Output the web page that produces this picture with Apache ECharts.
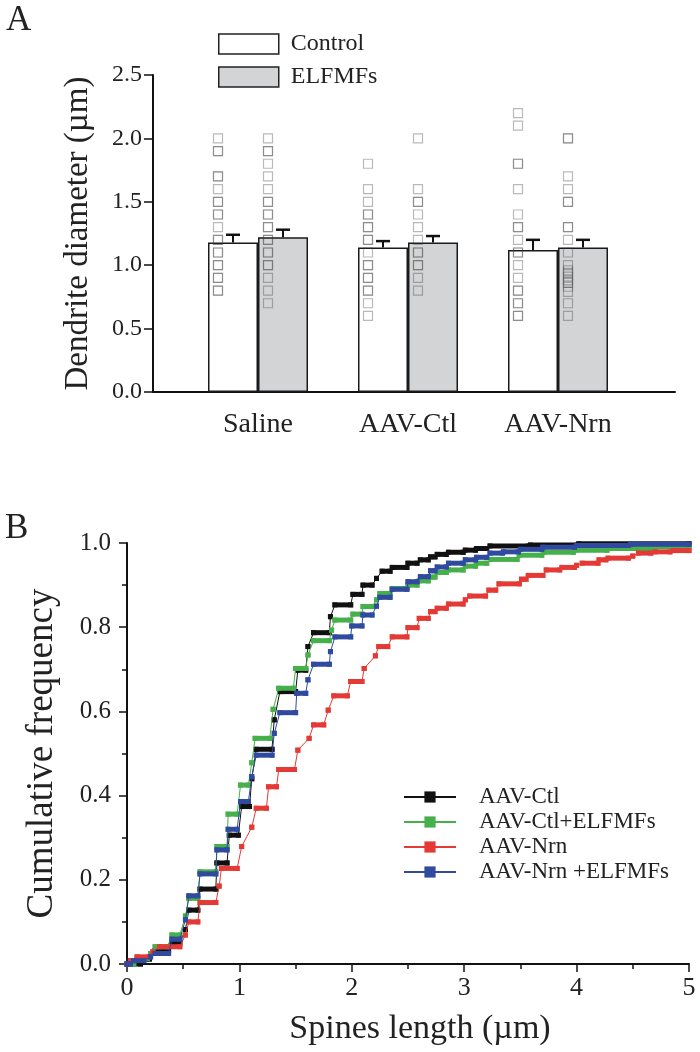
<!DOCTYPE html>
<html><head><meta charset="utf-8">
<script src="https://cdn.jsdelivr.net/npm/echarts@6/dist/echarts.min.js"></script>
<style>html,body{margin:0;padding:0;background:#fff;}#c{width:700px;height:1052px;}</style>
</head><body><div id="c"></div>
<script>
// ---------- Panel A data ----------
const groups = ['Saline', 'AAV-Ctl', 'AAV-Nrn'];
const groupX = [1, 2, 3];
const controlMean = [1.18, 1.14, 1.12];
const controlTop = [1.24, 1.19, 1.20];
const elfMean = [1.22, 1.18, 1.14];
const elfTop = [1.28, 1.23, 1.20];
// individual dendrites (repeated values overlap and look darker)
const salineControlPts = [2.0, 1.9, 1.9, 1.7, 1.7, 1.6, 1.5, 1.5, 1.4, 1.4, 1.3, 1.2, 1.2, 1.1, 1.1, 1.0, 1.0, 0.9, 0.9, 0.8, 0.8];
const salineElfPts = [2.0, 1.9, 1.9, 1.8, 1.7, 1.6, 1.5, 1.5, 1.4, 1.4, 1.3, 1.3, 1.2, 1.2, 1.1, 1.1, 1.0, 1.0, 0.9, 0.8, 0.7];
const ctlControlPts = [1.8, 1.6, 1.5, 1.4, 1.4, 1.3, 1.3, 1.2, 1.2, 1.1, 1.0, 1.0, 0.9, 0.9, 0.8, 0.8, 0.7, 0.6];
const ctlElfPts = [2.0, 1.6, 1.5, 1.5, 1.4, 1.3, 1.2, 1.1, 1.1, 1.0, 1.0, 0.9, 0.8];
const nrnControlPts = [2.2, 2.1, 1.8, 1.8, 1.6, 1.4, 1.3, 1.3, 1.2, 1.1, 1.1, 1.0, 0.9, 0.8, 0.8, 0.7, 0.7, 0.6, 0.6];
const nrnElfPts = [2.0, 2.0, 1.7, 1.6, 1.5, 1.5, 1.3, 1.3, 1.2, 1.1, 1.0, 0.96, 0.94, 0.91, 0.88, 0.86, 0.83, 0.79, 0.7, 0.6];

// ---------- Panel B data: plateaus [xStart, xEnd, cumulative frequency] ----------
const curveNames = ['AAV-Ctl', 'AAV-Ctl+ELFMFs', 'AAV-Nrn', 'AAV-Nrn +ELFMFs'];
const curveColors = ['#111111', '#46b04a', '#e43a36', '#2f4a9e'];
const ctlSteps = [
  [0.00, 0.12, 0.000], [0.18, 0.20, 0.012], [0.25, 0.37, 0.032], [0.40, 0.47, 0.050],
  [0.52, 0.52, 0.082], [0.55, 0.63, 0.128], [0.65, 0.79, 0.178], [0.80, 0.89, 0.240],
  [0.91, 0.99, 0.306], [1.02, 1.09, 0.374], [1.11, 1.11, 0.440], [1.15, 1.29, 0.510],
  [1.31, 1.31, 0.580], [1.36, 1.50, 0.647], [1.52, 1.59, 0.698], [1.61, 1.61, 0.754],
  [1.66, 1.80, 0.787], [1.81, 1.81, 0.825], [1.85, 1.99, 0.853], [2.01, 2.09, 0.878],
  [2.10, 2.18, 0.900], [2.22, 2.22, 0.916], [2.27, 2.34, 0.933], [2.36, 2.49, 0.942],
  [2.50, 2.58, 0.952], [2.61, 2.68, 0.960], [2.70, 2.74, 0.967], [2.76, 2.84, 0.973],
  [2.86, 2.99, 0.978], [3.01, 3.10, 0.983], [3.11, 3.20, 0.987], [3.23, 3.57, 0.993],
  [3.59, 4.00, 0.995], [4.02, 5.00, 0.998]
];
const ctlElfSteps = [
  [0.00, 0.06, 0.000], [0.09, 0.18, 0.013], [0.21, 0.21, 0.025], [0.25, 0.36, 0.041],
  [0.40, 0.47, 0.069], [0.52, 0.52, 0.114], [0.55, 0.63, 0.156], [0.65, 0.79, 0.219],
  [0.80, 0.89, 0.279], [0.90, 0.98, 0.356], [1.01, 1.08, 0.425], [1.11, 1.11, 0.478],
  [1.14, 1.27, 0.536], [1.30, 1.30, 0.605], [1.35, 1.48, 0.655], [1.50, 1.59, 0.702],
  [1.61, 1.61, 0.734], [1.66, 1.80, 0.768], [1.82, 1.82, 0.793], [1.85, 1.99, 0.817],
  [2.01, 2.09, 0.831], [2.10, 2.18, 0.849], [2.22, 2.22, 0.865], [2.25, 2.34, 0.880],
  [2.36, 2.49, 0.892], [2.50, 2.58, 0.900], [2.60, 2.68, 0.910], [2.70, 2.74, 0.919],
  [2.76, 2.84, 0.930], [2.86, 2.99, 0.936], [3.01, 3.10, 0.945], [3.11, 3.20, 0.952],
  [3.24, 3.47, 0.961], [3.49, 3.69, 0.971], [3.71, 3.97, 0.978], [3.99, 4.27, 0.983],
  [4.29, 4.69, 0.987], [4.71, 5.00, 0.991]
];
const nrnSteps = [
  [0.00, 0.00, 0.000], [0.03, 0.06, 0.008], [0.09, 0.19, 0.017], [0.23, 0.23, 0.029],
  [0.29, 0.47, 0.041], [0.52, 0.52, 0.069], [0.55, 0.63, 0.100], [0.65, 0.79, 0.146],
  [0.82, 0.82, 0.185], [0.84, 0.98, 0.227], [1.02, 1.02, 0.279], [1.11, 1.11, 0.325],
  [1.15, 1.24, 0.370], [1.26, 1.33, 0.421], [1.35, 1.49, 0.462], [1.52, 1.52, 0.508],
  [1.62, 1.62, 0.536], [1.66, 1.75, 0.568], [1.79, 1.79, 0.603], [1.84, 1.96, 0.637],
  [1.99, 2.09, 0.671], [2.11, 2.11, 0.702], [2.21, 2.21, 0.732], [2.24, 2.32, 0.754],
  [2.36, 2.49, 0.777], [2.50, 2.58, 0.799], [2.60, 2.68, 0.821], [2.70, 2.74, 0.837],
  [2.76, 2.84, 0.845], [2.86, 2.99, 0.855], [3.01, 3.01, 0.865], [3.05, 3.19, 0.874],
  [3.22, 3.28, 0.888], [3.31, 3.49, 0.903], [3.51, 3.55, 0.914], [3.57, 3.70, 0.923],
  [3.73, 3.85, 0.936], [3.87, 3.98, 0.942], [4.00, 4.00, 0.947], [4.05, 4.19, 0.952],
  [4.20, 4.26, 0.960], [4.28, 4.46, 0.964], [4.50, 4.50, 0.969], [4.55, 4.66, 0.976],
  [4.70, 4.83, 0.979], [4.86, 5.00, 0.982]
];
const nrnElfSteps = [
  [0.00, 0.03, 0.000], [0.06, 0.15, 0.008], [0.21, 0.21, 0.017], [0.25, 0.37, 0.025],
  [0.40, 0.47, 0.059], [0.52, 0.52, 0.105], [0.55, 0.63, 0.162], [0.65, 0.79, 0.214],
  [0.80, 0.89, 0.271], [0.90, 0.98, 0.320], [1.01, 1.08, 0.386], [1.11, 1.11, 0.445],
  [1.15, 1.29, 0.496], [1.31, 1.31, 0.548], [1.36, 1.50, 0.597], [1.51, 1.59, 0.643],
  [1.61, 1.61, 0.675], [1.66, 1.80, 0.712], [1.81, 1.81, 0.742], [1.85, 1.99, 0.777],
  [2.00, 2.09, 0.803], [2.10, 2.18, 0.829], [2.22, 2.22, 0.850], [2.25, 2.34, 0.871],
  [2.36, 2.49, 0.890], [2.50, 2.58, 0.908], [2.61, 2.68, 0.920], [2.70, 2.74, 0.934],
  [2.76, 2.84, 0.943], [2.86, 2.99, 0.952], [3.01, 3.10, 0.960], [3.11, 3.20, 0.966],
  [3.23, 3.34, 0.976], [3.35, 3.48, 0.979], [3.50, 3.69, 0.985], [3.70, 3.98, 0.990],
  [4.00, 4.46, 0.994], [4.48, 5.00, 0.997]
];
const allSteps = [ctlSteps, ctlElfSteps, nrnSteps, nrnElfSteps];

// ---------- build ----------
const FONT = '"Liberation Serif", "DejaVu Serif", serif';
const TXT = '#222';
const chart = echarts.init(document.getElementById('c'), null, {renderer: 'canvas'});

function pairs(xs, ys) { return xs.map((x, i) => [x, ys[i]]); }
function pts(x, vals) { return vals.map(v => [x, v]); }

const squareStyle = {color: 'rgba(0,0,0,0)', borderColor: 'rgba(60,60,60,0.45)', borderWidth: 1.2};
const scatterSeries = [
  [salineControlPts, 1, -40], [salineElfPts, 1, 10],
  [ctlControlPts, 2, -40], [ctlElfPts, 2, 10],
  [nrnControlPts, 3, -40], [nrnElfPts, 3, 10]
].map(([vals, gx, off]) => ({
  type: 'scatter', xAxisIndex: 0, yAxisIndex: 0, data: pts(gx, vals),
  symbol: 'rect', symbolSize: 9, symbolOffset: [off, 0], itemStyle: squareStyle,
  z: 5, silent: true
}));

const errData = [];
groupX.forEach((x, i) => {
  errData.push([x, controlMean[i], controlTop[i], -1]);
  errData.push([x, elfMean[i], elfTop[i], 1]);
});

const curveSeries = [];
allSteps.forEach((steps, k) => {
  const line = [];
  steps.forEach(s => {
    line.push([s[0], s[2]]);
    if (s[1] !== s[0]) line.push([s[1], s[2]]);
  });
  curveSeries.push({
    type: 'line', name: curveNames[k], xAxisIndex: 1, yAxisIndex: 1, data: line,
    symbol: 'rect', symbolSize: 5, showSymbol: true, color: curveColors[k],
    lineStyle: {width: 1, color: curveColors[k]}, itemStyle: {color: curveColors[k]},
    z: 3 + k
  });
  curveSeries.push({
    type: 'custom', xAxisIndex: 1, yAxisIndex: 1, data: steps,
    encode: {x: [0, 1], y: 2}, z: 3 + k,
    renderItem: function (params, api) {
      const a = api.coord([api.value(0), api.value(2)]);
      const b = api.coord([api.value(1), api.value(2)]);
      return {type: 'rect', shape: {x: a[0] - 2.5, y: a[1] - 2.5, width: b[0] - a[0] + 5, height: 5},
              style: {fill: curveColors[k]}};
    }
  });
});

const option = {
  animation: false,
  textStyle: {fontFamily: FONT},
  graphic: [
    {type: 'text', left: 6, top: 3, style: {text: 'A', font: '35px ' + FONT, fill: TXT}},
    {type: 'text', left: 5, top: 511, style: {text: 'B', font: '35px ' + FONT, fill: TXT}}
  ],
  grid: [
    {left: 153, top: 75, width: 522, height: 317},
    {left: 127, top: 543, width: 562, height: 421}
  ],
  legend: [
    {data: ['Control', 'ELFMFs'], orient: 'vertical', left: 218, top: 32, padding: 0,
     itemWidth: 60, itemHeight: 20, itemGap: 9, icon: 'rect', selectedMode: false,
     itemStyle: {borderColor: '#222', borderWidth: 1.5},
     textStyle: {fontFamily: FONT, fontSize: 24, lineHeight: 20, color: TXT, padding: [0, 0, 0, 7]}},
    {data: curveNames, orient: 'vertical', left: 403, top: 785, padding: 0,
     itemWidth: 52, itemHeight: 14, itemGap: 1, selectedMode: false,
     itemStyle: {borderWidth: 0}, lineStyle: {width: 2},
     textStyle: {fontFamily: FONT, fontSize: 23, lineHeight: 24, color: TXT, padding: [0, 0, 0, 18]}}
  ],
  xAxis: [
    {gridIndex: 0, type: 'value', min: 0.3, max: 3.78,
     axisLine: {lineStyle: {color: '#111', width: 2}}, axisTick: {show: false}, splitLine: {show: false},
     axisLabel: {customValues: groupX, formatter: v => groups[Math.round(v) - 1],
                 fontFamily: FONT, fontSize: 28, color: TXT, margin: 19}},
    {gridIndex: 1, type: 'value', min: 0, max: 5, interval: 1,
     axisLine: {lineStyle: {color: '#111', width: 2}},
     axisTick: {length: 8, lineStyle: {color: '#111', width: 1.5}},
     minorTick: {show: true, splitNumber: 2, length: 5, lineStyle: {color: '#111', width: 1.5}},
     splitLine: {show: false}, minorSplitLine: {show: false},
     axisLabel: {fontFamily: FONT, fontSize: 26, color: TXT, margin: 11},
     name: 'Spines length (µm)', nameLocation: 'middle', nameGap: 48,
     nameTextStyle: {fontFamily: FONT, fontSize: 34, color: TXT, padding: [0, 0, 0, 24]}}
  ],
  yAxis: [
    {gridIndex: 0, type: 'value', min: 0, max: 2.5, interval: 0.5,
     axisLine: {show: true, lineStyle: {color: '#111', width: 2}},
     axisTick: {show: true, length: 9, lineStyle: {color: '#111', width: 1.5}},
     splitLine: {show: false},
     axisLabel: {formatter: v => v.toFixed(1), fontFamily: FONT, fontSize: 24, color: TXT, margin: 11},
     name: 'Dendrite diameter (µm)', nameLocation: 'middle', nameGap: 58,
     nameTextStyle: {fontFamily: FONT, fontSize: 33, color: TXT}},
    {gridIndex: 1, type: 'value', min: 0, max: 1, interval: 0.2,
     axisLine: {show: true, lineStyle: {color: '#111', width: 2}},
     axisTick: {show: true, length: 8, lineStyle: {color: '#111', width: 1.5}},
     minorTick: {show: true, splitNumber: 2, length: 5, lineStyle: {color: '#111', width: 1.5}},
     splitLine: {show: false}, minorSplitLine: {show: false},
     axisLabel: {formatter: v => v.toFixed(1), fontFamily: FONT, fontSize: 25, color: TXT, margin: 16},
     name: 'Cumulative frequency', nameLocation: 'middle', nameGap: 66,
     nameTextStyle: {fontFamily: FONT, fontSize: 37, color: TXT}}
  ],
  series: [
    {type: 'bar', name: 'Control', xAxisIndex: 0, yAxisIndex: 0, data: pairs(groupX, controlMean),
     barWidth: 50, barGap: '0%', itemStyle: {color: '#ffffff', borderColor: '#1a1a1a', borderWidth: 1.5}, z: 2},
    {type: 'bar', name: 'ELFMFs', xAxisIndex: 0, yAxisIndex: 0, data: pairs(groupX, elfMean),
     barWidth: 50, barGap: '0%', itemStyle: {color: '#d3d4d6', borderColor: '#1a1a1a', borderWidth: 1.5}, z: 2},
    ...scatterSeries,
    {type: 'custom', xAxisIndex: 0, yAxisIndex: 0, data: errData, encode: {x: 0, y: [1, 2]}, z: 6,
     renderItem: function (params, api) {
       const p0 = api.coord([api.value(0), api.value(1)]);
       const p1 = api.coord([api.value(0), api.value(2)]);
       const cx = p0[0] + api.value(3) * 25;
       return {type: 'group', children: [
         {type: 'line', shape: {x1: cx, y1: p0[1], x2: cx, y2: p1[1]}, style: {stroke: '#111', lineWidth: 2}},
         {type: 'line', shape: {x1: cx - 7, y1: p1[1], x2: cx + 7, y2: p1[1]}, style: {stroke: '#111', lineWidth: 2.5}}
       ]};
     }},
    ...curveSeries
  ]
};
chart.setOption(option);
</script>
</body></html>
